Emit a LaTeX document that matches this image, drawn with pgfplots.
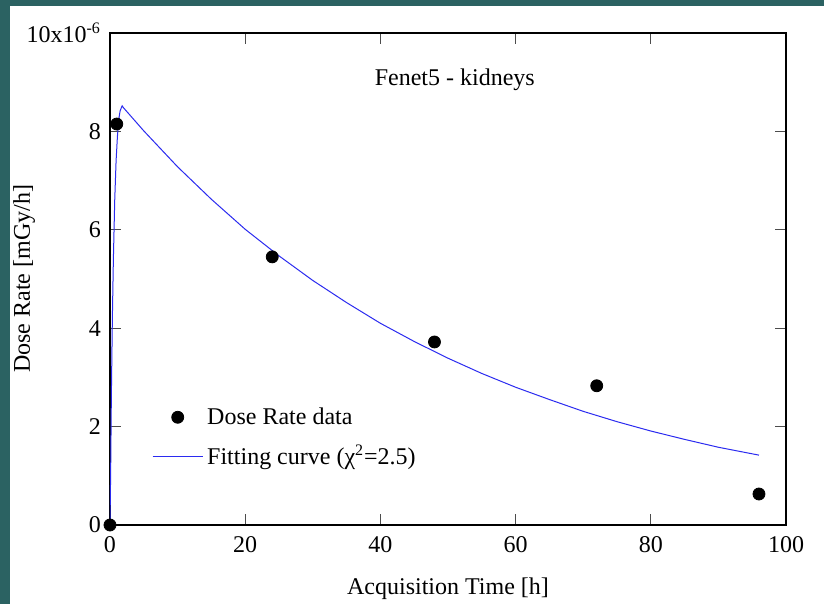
\documentclass[border=0pt]{standalone}
\usepackage{fontspec}
\setmainfont{Liberation Serif}
\usepackage{pgfplots}
\pgfplotsset{compat=1.18}

\definecolor{frameteal}{HTML}{2B6262}
\definecolor{fitblue}{HTML}{2B2BF0}

\begin{document}
\begin{tikzpicture}[font=\fontsize{12}{14}\selectfont]
% screenshot frame: 824x604 px at 0.5pt per px
\path[use as bounding box] (0,0) rectangle (412pt,302pt);
\clip (0,0) rectangle (412pt,302pt);
\fill[frameteal] (0,0) rectangle (412pt,302pt);
\fill[white] (5pt,0) rectangle (412pt,299pt);

\begin{axis}[
    at={(55pt,39.5pt)},
    anchor=south west,
    scale only axis,
    width=338pt,
    height=246pt,
    xmin=0, xmax=100,
    ymin=0, ymax=10,
    xtick={0,20,40,60,80,100},
    ytick={0,2,4,6,8,10},
    yticklabels={0,2,4,6,8,{10x10\textsuperscript{-6}}},
    /pgf/number format/assume math mode=true,
    tick align=inside,
    major tick length=5.5pt,
    tick style={black!70, line width=0.6pt},
    axis line style={black, line width=0.8pt},
    xticklabel style={yshift=-2pt},
    yticklabel style={xshift=-1pt},
    xlabel={Acquisition Time [h]},
    xlabel style={at={(rel axis cs:0.5,0)}, anchor=base, yshift=-35pt},
    ylabel={Dose Rate [mGy/h]},
    ylabel style={at={([xshift=-40pt]rel axis cs:0,0.5)}, anchor=base, rotate=0},
    title={Fenet5 - kidneys},
    title style={at={(rel axis cs:0.51,0.908)}, anchor=center, yshift=-7pt},
    legend style={at={(rel axis cs:0.053,0.256)}, anchor=north west,
        draw=none, fill=none, row sep=5pt,
        font=\fontsize{12}{14}\selectfont},
    legend cell align=left,
    legend image code/.code={\draw[mark repeat=2,mark phase=2,#1]
        plot coordinates {(0pt,0pt)(12.5pt,0pt)(25pt,0pt)};},
]
\addplot[only marks, mark=*, mark size=3pt, black] coordinates {
(0,0) (1,8.15) (24,5.45) (48,3.72) (72,2.83) (96,0.63)
};
\addlegendentry{Dose Rate data}

\addplot[fitblue, line width=0.5pt, mark=none] coordinates {
(0,0) (0.1,1.1) (0.2,2.6) (0.35,4.2) (0.5,5.4) (0.7,6.6) (0.9,7.4)
(1.1,7.9) (1.3,8.25) (1.5,8.42) (1.8,8.52) (2,8.48) (5,8.01)
(10,7.28) (15,6.62) (20,6.01) (25,5.47) (30,4.97) (35,4.52)
(40,4.10) (45,3.73) (50,3.39) (55,3.08) (60,2.80) (65,2.55)
(70,2.31) (75,2.10) (80,1.91) (85,1.74) (90,1.58) (96,1.42)
};
\addlegendentry{Fitting curve (χ\textsuperscript{2}=2.5)}
\end{axis}
\end{tikzpicture}
\end{document}
